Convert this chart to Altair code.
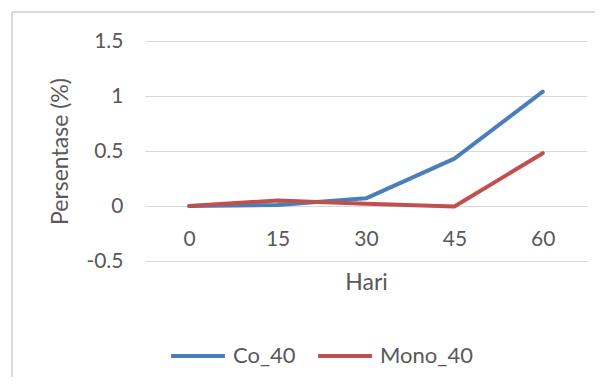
import altair as alt
import pandas as pd

days = ["0", "15", "30", "45", "60"]
co_40 = [0.0, 0.01, 0.07, 0.43, 1.04]
mono_40 = [0.0, 0.05, 0.02, -0.005, 0.48]
series_names = ["Co_40", "Mono_40"]
series_colors = ["#4A7EBB", "#C0504D"]
y_ticks = [-0.5, 0, 0.5, 1, 1.5]

rows = []
for d, v in zip(days, co_40):
    rows.append({"Hari": d, "val": v, "series": "Co_40"})
for d, v in zip(days, mono_40):
    rows.append({"Hari": d, "val": v, "series": "Mono_40"})
df = pd.DataFrame(rows)

FONT = "Lato"
TXT = "#595959"
GRID = "#D9D9D9"

lines = alt.Chart(df).mark_line(strokeWidth=4, strokeCap="round", strokeJoin="round").encode(
    x=alt.X("Hari:O", sort=days,
            scale=alt.Scale(type="point", padding=0.5),
            axis=alt.Axis(orient="bottom", offset=-55, title="Hari", labelAngle=0,
                          domainColor=GRID, domainWidth=1, ticks=False,
                          labelPadding=22, titlePadding=22, grid=False)),
    y=alt.Y("val:Q", scale=alt.Scale(domain=[-0.5, 1.5], nice=False, zero=False),
            axis=alt.Axis(values=y_ticks, title="Persentase (%)", labelExpr="'' + datum.value",
                          domain=False, ticks=False, grid=True, gridColor=GRID,
                          labelPadding=22, titlePadding=13)),
    color=alt.Color("series:N", scale=alt.Scale(domain=series_names, range=series_colors),
                    legend=alt.Legend(title=None, orient="none", direction="horizontal",
                                      legendX=24, legendY=286,
                                      symbolType="stroke", symbolSize=2900,
                                      symbolStrokeWidth=4, labelOffset=6,
                                      columnPadding=14)),
    detail="series:N",
)

border_left = alt.Chart(pd.DataFrame({"a": [0]})).mark_rule(color=GRID, strokeWidth=2).encode(
    x=alt.value(-133), y=alt.value(-29), y2=alt.value(400))
border_top = alt.Chart(pd.DataFrame({"a": [0]})).mark_rule(color=GRID, strokeWidth=2).encode(
    x=alt.value(-133), x2=alt.value(460), y=alt.value(-29))

chart = alt.layer(border_left, border_top, lines).properties(
    width=442, height=220,
    background="white",
    autosize=alt.AutoSizeParams(type="none"),
    padding={"left": 137, "top": 33, "right": 8, "bottom": 116},
).configure_view(stroke=None).configure_axis(
    labelFont=FONT, titleFont=FONT, labelColor=TXT, titleColor=TXT,
    labelFontSize=21, titleFontSize=23, titleFontWeight="normal",
).configure_legend(
    labelFont=FONT, labelColor=TXT, labelFontSize=22,
)

chart.save("out.html", embed_options={"renderer": "svg", "actions": False})
